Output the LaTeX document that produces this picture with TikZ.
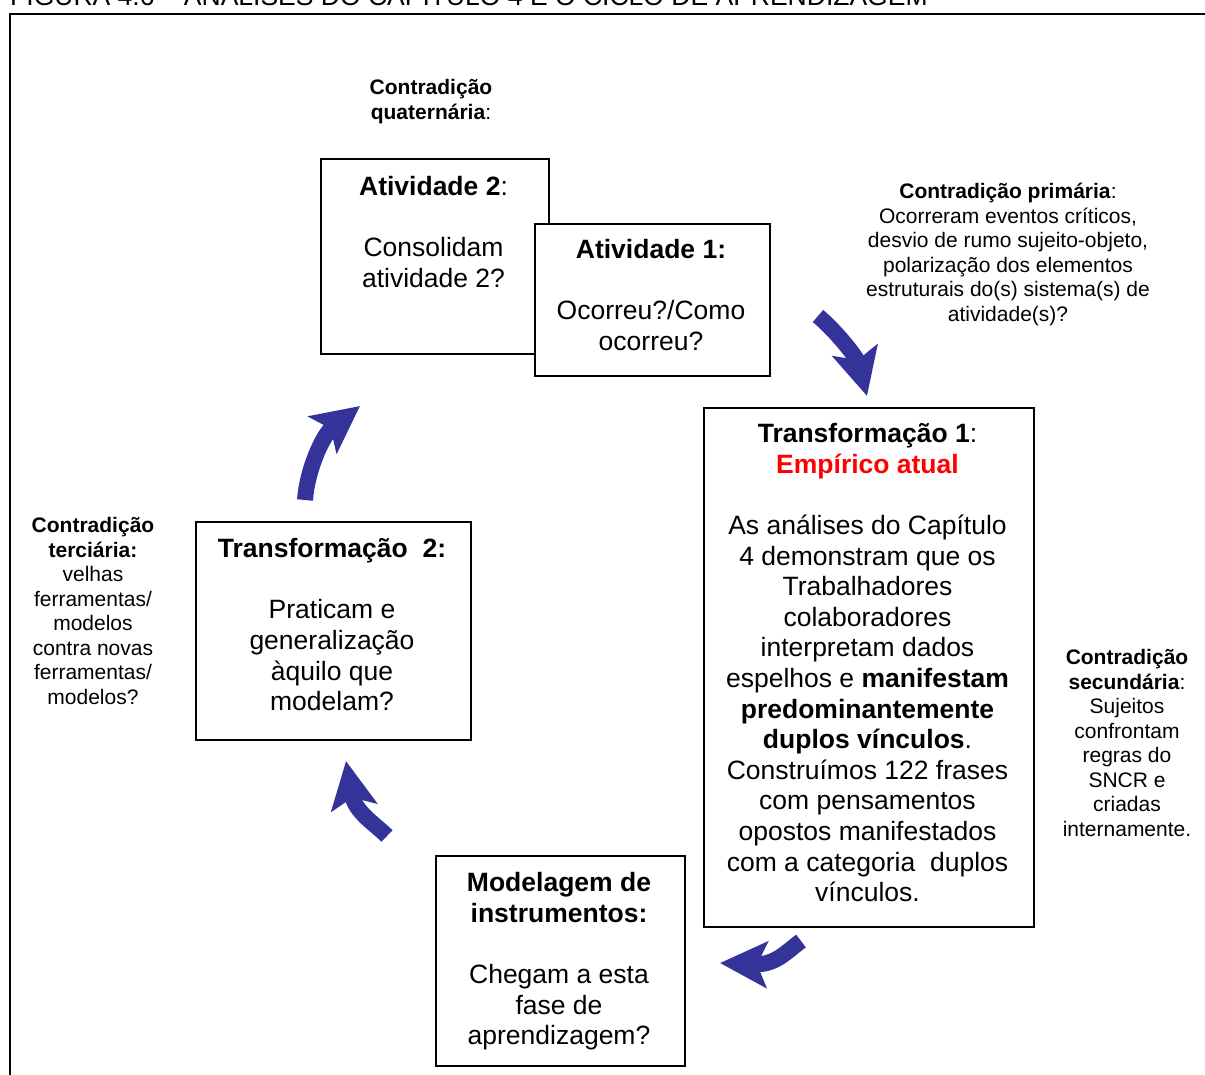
\documentclass[tikz,border=0pt]{standalone}
\usepackage{fontspec}
\setmainfont{Liberation Sans}
\usetikzlibrary{arrows.meta}
\definecolor{cyclearrow}{RGB}{51,51,153}
\definecolor{emphred}{RGB}{255,0,0}

\begin{document}
\begin{tikzpicture}[x=1pt,y=-1pt,
  box/.style={draw=black, line width=2pt, fill=white, inner sep=0pt, anchor=north west},
  big/.style={align=center, inner sep=0pt, anchor=north, font=\fontsize{26.5}{30.6}\selectfont},
  small/.style={align=center, inner sep=0pt, anchor=north, font=\fontsize{21}{24.5}\selectfont},
  cyc/.style={draw=cyclearrow, line width=16pt, -{Stealth[length=47pt,width=46pt,inset=10pt]}}]

\useasboundingbox (0,0) rectangle (1205,1074);
\clip (0,0) rectangle (1205,1074);

% caption and outer frame
\node[anchor=base west, inner sep=0pt, font=\fontsize{26.5}{30}\selectfont] (title) at (10,5)
  {FIGURA 4.6 – ANÁLISES DO CAPÍTULO 4 E O CICLO DE APRENDIZAGEM};
\draw[line width=2.5pt] (10,1090) -- (10,14) -- (1215,14);

% boxes
\node[box, minimum width=228pt, minimum height=195pt] (act2) at (319.5,158) {};
\node[big] (act2txt) at (433.5,173.6)
  {\strut\textbf{Atividade 2}:\\[30.6pt] Consolidam\\ atividade 2?};

\node[box, minimum width=235pt, minimum height=152pt] (act1) at (533.5,223) {};
\node[big] (act1txt) at (651,237.1)
  {\strut\textbf{Atividade 1:}\\[30.6pt] Ocorreu?/Como\\ ocorreu?};

\node[box, minimum width=330pt, minimum height=519pt] (tr1) at (702.5,407) {};
\node[big] (tr1txt) at (867.5,421.1)
  {\strut\textbf{Transformação 1}:\\
   \textcolor{emphred}{\textbf{Empírico atual}}\\[30.6pt]
   As análises do Capítulo\\
   4 demonstram que os\\
   Trabalhadores\\
   colaboradores\\
   interpretam dados\\
   espelhos e \textbf{manifestam}\\
   \textbf{predominantemente}\\
   \textbf{duplos vínculos}.\\
   Construímos 122 frases\\
   com pensamentos\\
   opostos manifestados\\
   com a categoria~~duplos\\
   vínculos.};

\node[box, minimum width=275pt, minimum height=218pt] (tr2) at (194.5,521) {};
\node[big] (tr2txt) at (332,536.1)
  {\strut\textbf{Transformação~~2:}\\[30.6pt] Praticam e\\ generalização\\ àquilo que\\ modelam?};

\node[box, minimum width=249pt, minimum height=210pt] (mod) at (434.5,855) {};
\node[big] (modtxt) at (559,870.1)
  {\strut\textbf{Modelagem de}\\ \textbf{instrumentos:}\\[30.6pt] Chegam a esta\\ fase de\\ aprendizagem?};

% contradiction labels
\node[small] (c4) at (431,77.35)
  {\strut\textbf{Contradição}\\ \textbf{quaternária}:};
\node[small] (c1) at (1008,181.35)
  {\strut\textbf{Contradição primária}:\\ Ocorreram eventos críticos,\\ desvio de rumo sujeito-objeto,\\
   polarização dos elementos\\ estruturais do(s) sistema(s) de\\ atividade(s)?};
\node[small] (c2) at (1127,647.35)
  {\strut\textbf{Contradição}\\ \textbf{secundária}:\\ Sujeitos\\ confrontam\\ regras do\\ SNCR e\\ criadas\\ internamente.};
\node[small] (c3) at (93,515.35)
  {\strut\textbf{Contradição}\\ \textbf{terciária:}\\ velhas\\ ferramentas/\\ modelos\\ contra novas\\ ferramentas/\\ modelos?};

% cycle arrows
\coordinate (a1s) at (818,316);  \coordinate (a1e) at (867,396);
\coordinate (a2s) at (801,941);  \coordinate (a2e) at (720,963);
\coordinate (a3s) at (387,836);  \coordinate (a3e) at (346,761);
\coordinate (a4s) at (305,500);  \coordinate (a4e) at (360,406);
\draw[cyc] (a1s) .. controls (838,333) and (857,358) .. (a1e);
\draw[cyc] (a2s) .. controls (785,953) and (775,965) .. (a2e);
\draw[cyc] (a3s) .. controls (375,824) and (355,812) .. (a3e);
\draw[cyc] (a4s) .. controls (307,470) and (323,434.5) .. (a4e);

\end{tikzpicture}
\end{document}
